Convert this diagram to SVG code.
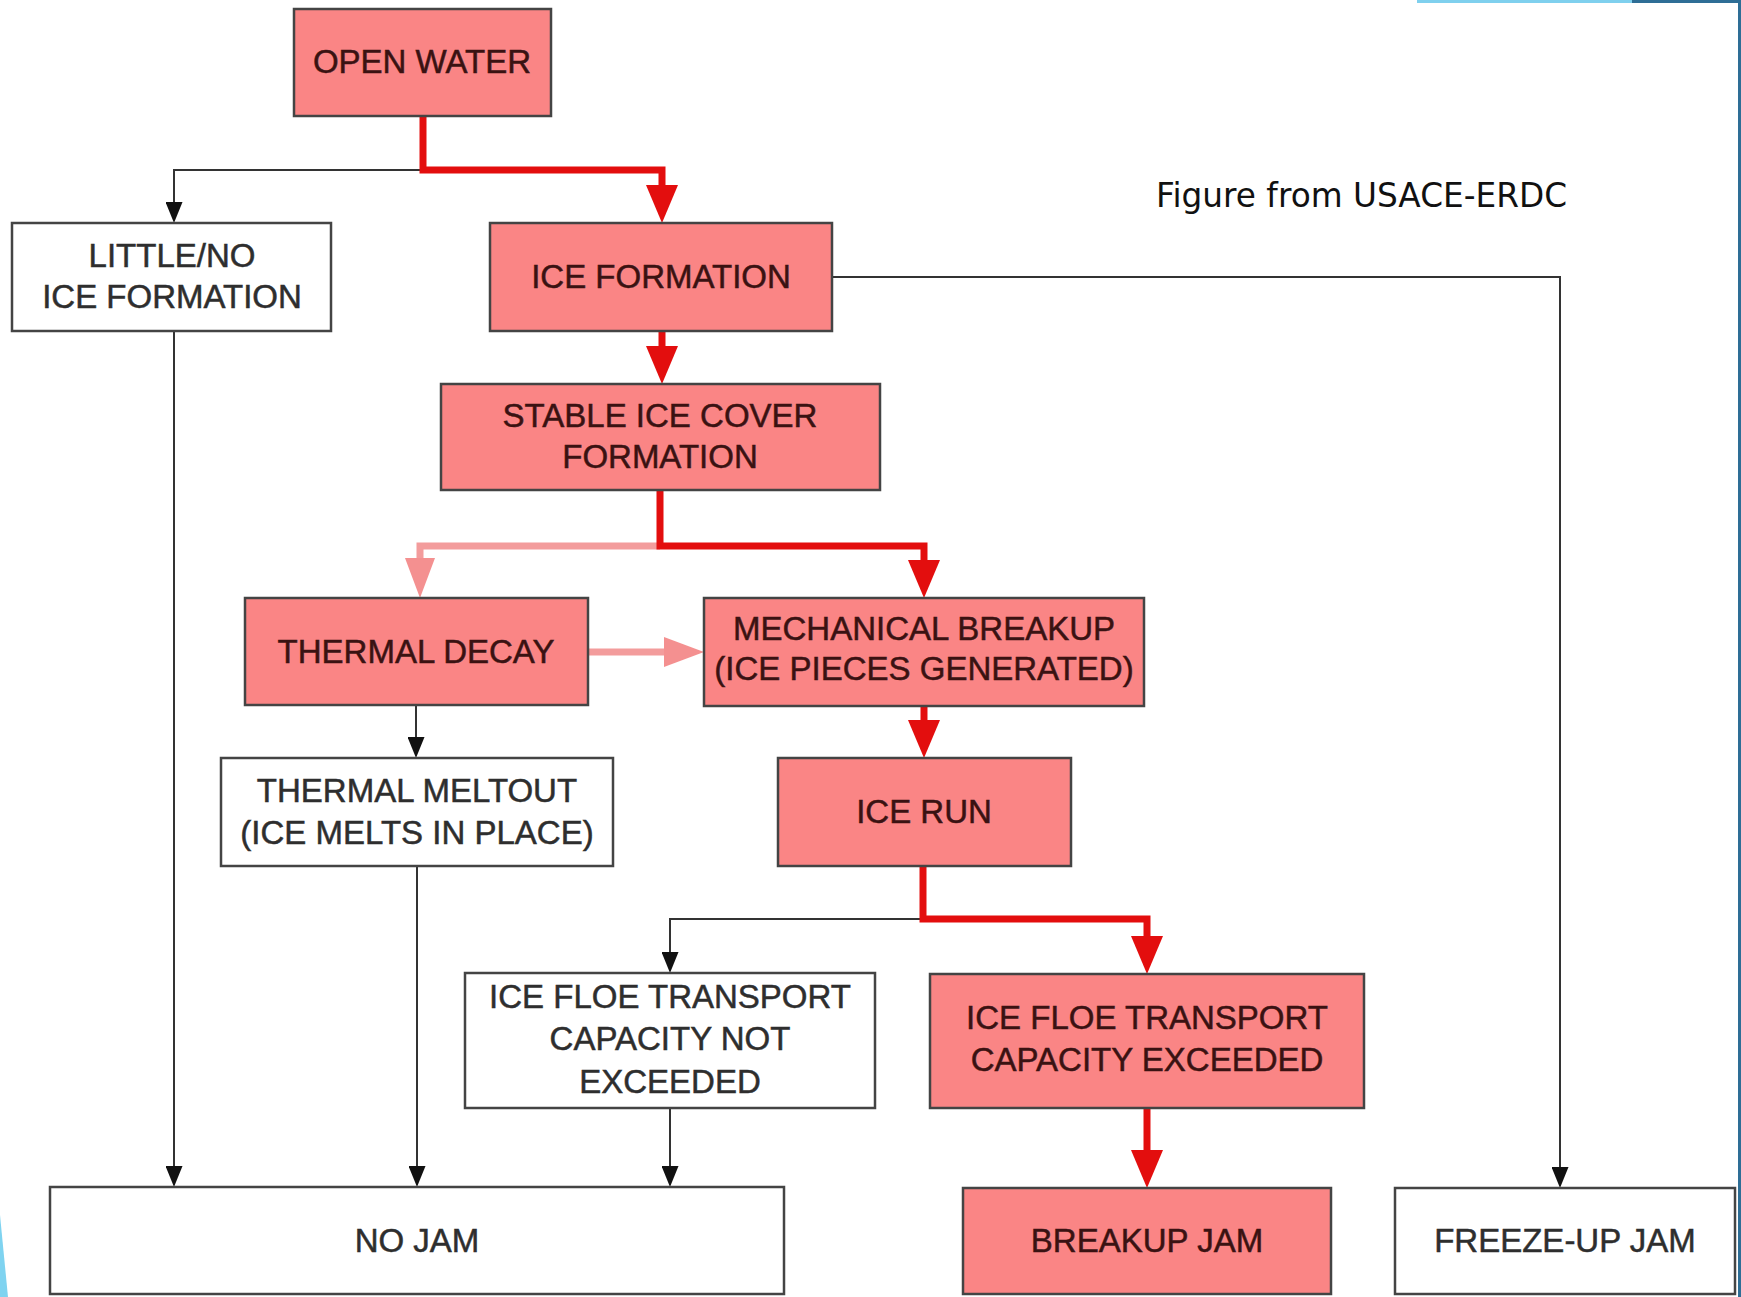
<svg xmlns="http://www.w3.org/2000/svg" width="1741" height="1297" viewBox="0 0 1741 1297">
<style>
.box{stroke:#444;stroke-width:2.5}
.hot{fill:#fa8585}
.plain{fill:#fff}
.t{font-family:"Liberation Sans",Arial,sans-serif;font-size:33px;text-anchor:middle;stroke-width:0.5}
.hot text{fill:#3a1212;stroke:#3a1212}
.plain text{fill:#2e2e2e;stroke:#2e2e2e}
.red{fill:none;stroke:#e30e0e;stroke-width:7;stroke-linejoin:miter}
.pink{fill:none;stroke:#f39c9c;stroke-width:7}
.blk{fill:none;stroke:#333;stroke-width:2}
</style>
<defs>
<marker id="aRed" markerUnits="userSpaceOnUse" viewBox="0 0 38 32" markerWidth="38" markerHeight="32" refX="8" refY="16" orient="auto"><path d="M0,0 L38,16 L0,32 z" fill="#e30e0e"/></marker>
<marker id="aPink" markerUnits="userSpaceOnUse" viewBox="0 0 40 30" markerWidth="40" markerHeight="30" refX="8" refY="15" orient="auto"><path d="M0,0 L40,15 L0,30 z" fill="#f49090"/></marker>
<marker id="aBlk" markerUnits="userSpaceOnUse" viewBox="0 0 21 17" markerWidth="21" markerHeight="17" refX="3" refY="8.5" orient="auto"><path d="M0,0 L21,8.5 L0,17 z" fill="#111"/></marker>
</defs>
<rect width="1741" height="1297" fill="#fff"/>
<g id="decor">
<rect x="1417" y="0" width="215" height="3" fill="#7fd0ee"/>
<rect x="1632" y="0" width="109" height="3" fill="#2e6e96"/>
<rect x="1738" y="0" width="3" height="1297" fill="#2e6e96"/>
<polygon points="0,1215 8,1297 0,1297" fill="#7fd3f0"/>
</g>
<g id="connectors">
<path class="blk" d="M423,170 H174 V205" marker-end="url(#aBlk)"/>
<path class="red" d="M423,116 V170 H662 V193" marker-end="url(#aRed)"/>
<path class="red" d="M662,331 V354" marker-end="url(#aRed)"/>
<path class="blk" d="M832,277 H1560 V1170" marker-end="url(#aBlk)"/>
<path class="blk" d="M174,331 V1169" marker-end="url(#aBlk)"/>
<path class="pink" d="M660,546 H420 V566" marker-end="url(#aPink)"/>
<path class="red" d="M660,490 V546 H924 V568" marker-end="url(#aRed)"/>
<path class="pink" d="M588,652 H672" marker-end="url(#aPink)"/>
<path class="blk" d="M416,705 V740" marker-end="url(#aBlk)"/>
<path class="red" d="M924,706 V728" marker-end="url(#aRed)"/>
<path class="blk" d="M417,866 V1169" marker-end="url(#aBlk)"/>
<path class="blk" d="M923,919 H670 V955" marker-end="url(#aBlk)"/>
<path class="red" d="M923,866 V919 H1147 V944" marker-end="url(#aRed)"/>
<path class="blk" d="M670,1108 V1169" marker-end="url(#aBlk)"/>
<path class="red" d="M1147,1108 V1158" marker-end="url(#aRed)"/>
</g>
<g id="open-water" class="hot"><rect class="box" x="294" y="9" width="257" height="107"/><text class="t" x="422" y="73">OPEN WATER</text></g>
<g id="little-no" class="plain"><rect class="box" x="12" y="223" width="319" height="108"/><text class="t" x="172" y="267">LITTLE/NO</text><text class="t" x="172" y="308">ICE FORMATION</text></g>
<g id="ice-formation" class="hot"><rect class="box" x="490" y="223" width="342" height="108"/><text class="t" x="661" y="288">ICE FORMATION</text></g>
<g id="stable-ice" class="hot"><rect class="box" x="441" y="384" width="439" height="106"/><text class="t" x="660" y="427">STABLE ICE COVER</text><text class="t" x="660" y="468">FORMATION</text></g>
<g id="thermal-decay" class="hot"><rect class="box" x="245" y="598" width="343" height="107"/><text class="t" x="416" y="663">THERMAL DECAY</text></g>
<g id="mech-breakup" class="hot"><rect class="box" x="704" y="598" width="440" height="108"/><text class="t" x="924" y="640">MECHANICAL BREAKUP</text><text class="t" x="924" y="680">(ICE PIECES GENERATED)</text></g>
<g id="thermal-meltout" class="plain"><rect class="box" x="221" y="758" width="392" height="108"/><text class="t" x="417" y="802">THERMAL MELTOUT</text><text class="t" x="417" y="844">(ICE MELTS IN PLACE)</text></g>
<g id="ice-run" class="hot"><rect class="box" x="778" y="758" width="293" height="108"/><text class="t" x="924" y="823">ICE RUN</text></g>
<g id="not-exceeded" class="plain"><rect class="box" x="465" y="973" width="410" height="135"/><text class="t" x="670" y="1008">ICE FLOE TRANSPORT</text><text class="t" x="670" y="1050">CAPACITY NOT</text><text class="t" x="670" y="1093">EXCEEDED</text></g>
<g id="exceeded" class="hot"><rect class="box" x="930" y="974" width="434" height="134"/><text class="t" x="1147" y="1029">ICE FLOE TRANSPORT</text><text class="t" x="1147" y="1071">CAPACITY EXCEEDED</text></g>
<g id="no-jam" class="plain"><rect class="box" x="50" y="1187" width="734" height="107"/><text class="t" x="417" y="1252">NO JAM</text></g>
<g id="breakup-jam" class="hot"><rect class="box" x="963" y="1188" width="368" height="106"/><text class="t" x="1147" y="1252">BREAKUP JAM</text></g>
<g id="freezeup-jam" class="plain"><rect class="box" x="1395" y="1188" width="340" height="106"/><text class="t" x="1565" y="1252">FREEZE-UP JAM</text></g>
<text x="1156" y="207" font-family="DejaVu Sans, sans-serif" font-size="33" fill="#111" textLength="411" lengthAdjust="spacingAndGlyphs">Figure from USACE-ERDC</text>
</svg>
